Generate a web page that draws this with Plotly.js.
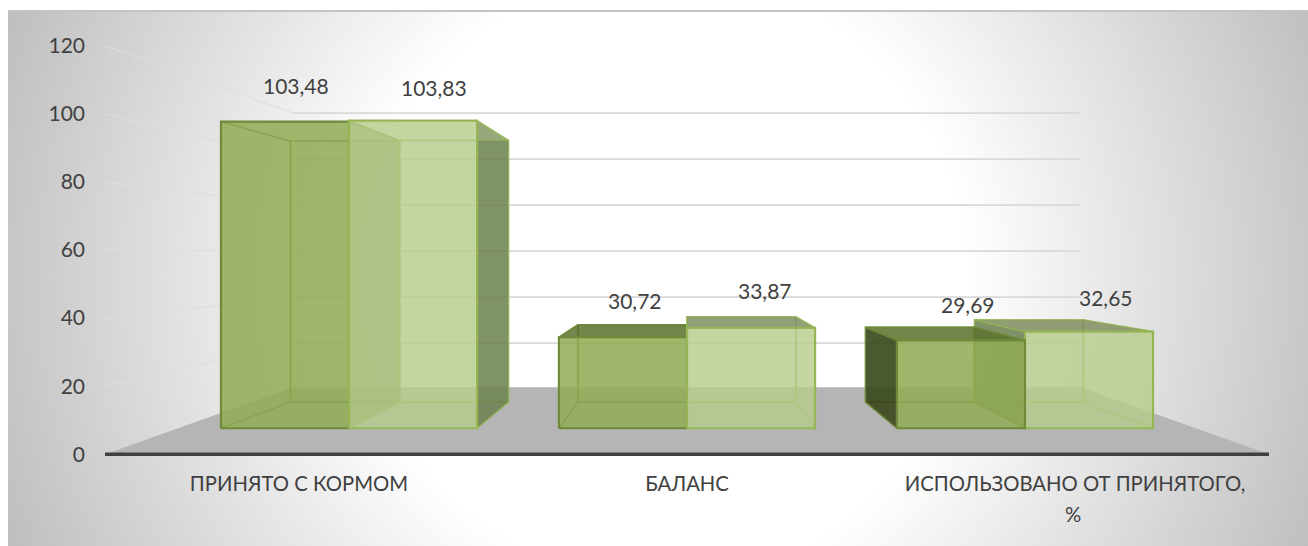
<!DOCTYPE html>
<html>
<head>
<meta charset="utf-8">
<script src="https://cdn.plot.ly/plotly-3.0.1.min.js"></script>
<style>
  html, body { margin: 0; padding: 0; background: #fff; overflow: hidden; }
  #panel {
    position: absolute; left: 8px; top: 10px; width: 1300px; height: 536px;
    box-sizing: border-box; border-top: 2px solid #c4c4c4;
    background: radial-gradient(circle 720px at 655px 265px, #ffffff 42%, #bcbcbc 100%);
  }
  #chart { position: absolute; left: 0; top: 0; width: 1308px; height: 546px; }
</style>
</head>
<body>
<div id="panel"></div>
<div id="chart"></div>
<script>
// Nitrogen balance categories and the two compared groups
const categories = ['ПРИНЯТО С КОРМОМ', 'БАЛАНС', 'ИСПОЛЬЗОВАНО ОТ ПРИНЯТОГО,'];
const categoryTail = ['', '', '%'];
const seriesA = [103.48, 30.72, 29.69];
const seriesB = [103.83, 33.87, 32.65];
const valueTicks = [0, 20, 40, 60, 80, 100, 120];
const categorySlots = [0, 1, 2];

// Pixel nudges for the value labels, per category
const labelShiftA = [11, 12, 7];
const labelShiftB = [21, 14, 17];
const labelRiseA = [36, 37, 36];
const labelRiseB = [33, 37, 34];

// Perspective: every point shrinks towards a vanishing point, expressed in axis units
const vanishX = 1;
const vanishY = 59.1;
const depthWall = 0.676;
const depthBarFront = 0.871;
const depthBarBack = 0.741;
const barSpan = 0.379;
const floorRise = 0.8;
const xMin = -0.5, xMax = 2.5, yMin = -2, yMax = 120;

function project(x, v, w) {
  return [vanishX + (x - vanishX) * w, vanishY + (v - vanishY) * w];
}

const traces = [];
function face(points, fill, line, width) {
  const xy = points.map(p => project(p[0], p[1], p[2]));
  xy.push(xy[0]);
  traces.push({
    type: 'scatter', mode: line ? 'lines' : 'none',
    x: xy.map(p => p[0]), y: xy.map(p => p[1]),
    fill: fill ? 'toself' : 'none', fillcolor: fill || undefined,
    line: { color: line || 'rgba(0,0,0,0)', width: width || 1 },
    hoverinfo: 'skip', showlegend: false, cliponaxis: false
  });
}
function segment(a, b, color, width) {
  const pa = project(a[0], a[1], a[2]), pb = project(b[0], b[1], b[2]);
  traces.push({
    type: 'scatter', mode: 'lines', x: [pa[0], pb[0]], y: [pa[1], pb[1]],
    line: { color: color, width: width },
    hoverinfo: 'skip', showlegend: false, cliponaxis: false
  });
}

// Floor of the chart box
face([[xMin, 0, 1], [xMax, 0, 1], [xMax, floorRise, depthWall], [xMin, floorRise, depthWall]], '#b5b5b5');

// Gridlines on the left and back walls (the baseline belongs to the floor)
valueTicks.slice(1).forEach(v => {
  segment([xMin, v, 1], [xMin, v, depthWall], 'rgba(222,222,222,0.7)', 1.6);
  segment([xMin, v, depthWall], [xMax, v, depthWall], '#d9d9d9', 1.8);
});

const styleA = {
  front: 'rgba(145,170,86,0.80)', back: 'rgba(155,187,89,0.40)', inner: 'rgba(155,187,89,0.32)',
  side: 'rgba(50,65,25,0.85)', shared: 'rgba(95,120,50,0.60)', top: 'rgba(90,110,45,0.80)',
  edge: '#6f8a38', edgeBack: 'rgba(111,138,56,0.85)'
};
const styleB = {
  front: 'rgba(181,203,139,0.72)', back: 'rgba(195,214,155,0.40)', inner: 'rgba(195,214,155,0.30)',
  side: 'rgba(102,122,75,0.80)', shared: 'rgba(102,122,75,0.80)', top: 'rgba(125,138,95,0.80)',
  edge: '#96b656', edgeBack: 'rgba(150,182,86,0.7)'
};

function box(x0, x1, v, s, isFirst) {
  const f = depthBarFront, b = depthBarBack;
  // back wall and floor of the bar
  face([[x0, 0, b], [x1, 0, b], [x1, v, b], [x0, v, b]], s.back, s.edgeBack, 1.6);
  face([[x0, 0, f], [x1, 0, f], [x1, 0, b], [x0, 0, b]], s.inner, s.edgeBack, 1.2);
  // side walls: dark when seen from outside, tinted when seen through the front
  face([[x0, 0, f], [x0, 0, b], [x0, v, b], [x0, v, f]], x0 > vanishX ? s.side : s.inner, s.edgeBack, 1.4);
  face([[x1, 0, f], [x1, 0, b], [x1, v, b], [x1, v, f]],
       x1 < vanishX ? (isFirst ? s.shared : s.side) : s.inner, s.edgeBack, 1.4);
  // lid: seen from above only when it sits under the eye level
  face([[x0, v, f], [x1, v, f], [x1, v, b], [x0, v, b]], v < vanishY ? s.top : s.inner, s.edgeBack, 1.4);
  // front
  face([[x0, 0, f], [x1, 0, f], [x1, v, f], [x0, v, f]], s.front, s.edge, 2.2);
}

categorySlots.forEach(c => {
  const drawA = () => box(c - barSpan, c, seriesA[c], styleA, true);
  const drawB = () => box(c, c + barSpan, seriesB[c], styleB, false);
  // paint the pair from the far side to the near side
  if (c > vanishX) { drawB(); drawA(); } else { drawA(); drawB(); }
});

// Heavy baseline along the front of the floor
segment([xMin - 0.02, 0, 1], [xMax, 0, 1], '#404040', 3.4);

// Value labels with a decimal comma, placed above the front edge of each bar
const labelFont = { family: 'Lato, "Open Sans", sans-serif', size: 21, color: '#404040' };
const categoryFont = { family: 'Lato, "Open Sans", sans-serif', size: 20.3, color: '#404040' };
const annotations = [];
function labelFor(x, v, shift, rise) {
  const p = project(x, v, depthBarFront);
  annotations.push({
    x: p[0], y: p[1], xref: 'x', yref: 'y', text: v.toFixed(2).replace('.', ','),
    showarrow: false, xshift: shift, yshift: rise, font: labelFont
  });
}
categorySlots.forEach(c => {
  labelFor(c - barSpan / 2, seriesA[c], labelShiftA[c], labelRiseA[c]);
  labelFor(c + barSpan / 2, seriesB[c], labelShiftB[c], labelRiseB[c]);
  // second line of a long category name, set with the looser leading it needs
  if (categoryTail[c]) {
    annotations.push({
      x: c, y: 0, xref: 'x', yref: 'y', text: categoryTail[c],
      showarrow: false, xshift: -2, yshift: -60, font: categoryFont
    });
  }
});

const layout = {
  width: 1308, height: 546,
  margin: { l: 105, r: 39, t: 46, b: 85.2, pad: 0 },
  paper_bgcolor: 'rgba(0,0,0,0)', plot_bgcolor: 'rgba(0,0,0,0)',
  showlegend: false, annotations: annotations,
  xaxis: {
    range: [xMin, xMax], tickmode: 'array', tickvals: categorySlots, ticktext: categories,
    showgrid: false, zeroline: false, showline: false, ticks: '',
    ticklabelstandoff: 9, tickfont: categoryFont, fixedrange: true
  },
  yaxis: {
    range: [yMin, yMax], tickmode: 'array', tickvals: valueTicks, ticktext: valueTicks.map(String),
    showgrid: false, zeroline: false, showline: false, ticks: '',
    ticklabelstandoff: 19, tickfont: labelFont, fixedrange: true
  }
};

Plotly.newPlot('chart', traces, layout, { displayModeBar: false, staticPlot: true });
</script>
</body>
</html>
